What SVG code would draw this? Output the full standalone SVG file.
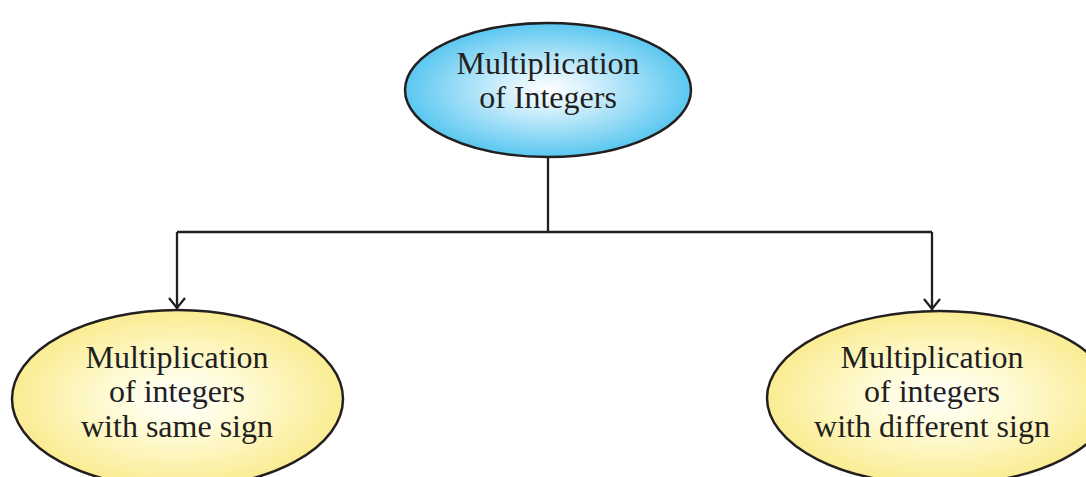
<svg xmlns="http://www.w3.org/2000/svg" width="1086" height="477" viewBox="0 0 1086 477">
<defs>
<radialGradient id="gBlue" cx="0.5" cy="0.5" r="0.5">
<stop offset="0" stop-color="#ffffff"/>
<stop offset="0.3" stop-color="#d4f0fc"/>
<stop offset="1" stop-color="#5ac7f0"/>
</radialGradient>
<radialGradient id="gYellow" cx="0.5" cy="0.5" r="0.5">
<stop offset="0" stop-color="#ffffff"/>
<stop offset="0.35" stop-color="#fffcdc"/>
<stop offset="1" stop-color="#faec92"/>
</radialGradient>
<style>
.node{stroke:#231f20;stroke-width:2.5}
.conn{fill:none;stroke:#231f20;stroke-width:2.3}
.lbl{font-family:'Liberation Serif',serif;font-size:32px;fill:#231f20;text-anchor:middle}
</style>
</defs>
<rect width="1086" height="477" fill="#ffffff"/>
<g id="connectors">
<line class="conn" x1="548" y1="157" x2="548" y2="232"/>
<line class="conn" x1="177" y1="232" x2="932" y2="232"/>
<path class="conn" d="M177,232 L177,309"/>
<path class="conn" d="M932,232 L932,310"/>
<path class="conn" d="M169,298 L177,308 L185,298"/>
<path class="conn" d="M924,299 L932,309 L940,299"/>
</g>
<g id="node-root">
<ellipse class="node" cx="548" cy="90" rx="143" ry="67" fill="url(#gBlue)"/>
<text class="lbl" x="548" y="74">Multiplication</text>
<text class="lbl" x="548" y="108">of Integers</text>
</g>
<g id="node-same">
<ellipse class="node" cx="177.5" cy="399" rx="165.5" ry="89" fill="url(#gYellow)"/>
<text class="lbl" x="177" y="368">Multiplication</text>
<text class="lbl" x="177" y="402">of integers</text>
<text class="lbl" x="177" y="437">with same sign</text>
</g>
<g id="node-diff">
<ellipse class="node" cx="940" cy="398" rx="173" ry="87" fill="url(#gYellow)"/>
<text class="lbl" x="932" y="368">Multiplication</text>
<text class="lbl" x="932" y="402">of integers</text>
<text class="lbl" x="932" y="437">with different sign</text>
</g>
</svg>
